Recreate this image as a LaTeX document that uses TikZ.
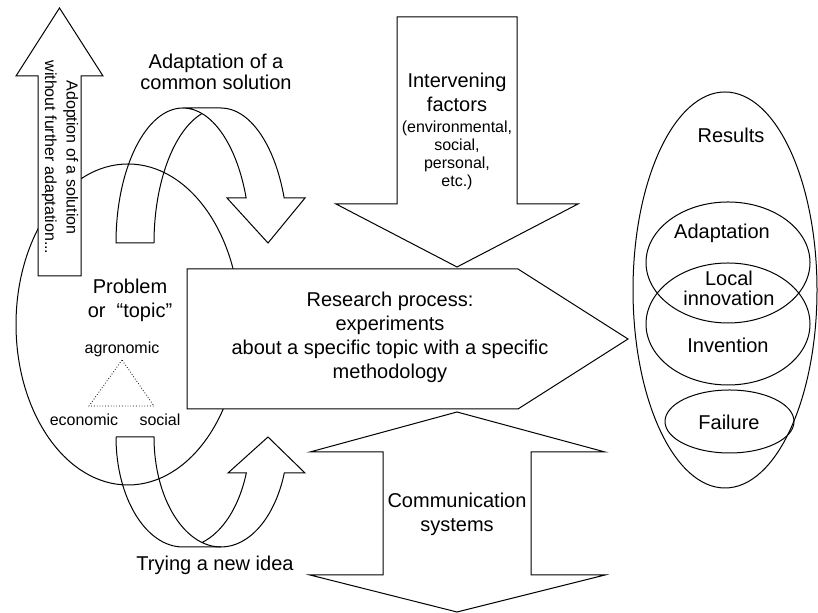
\documentclass[tikz,border=0pt]{standalone}
\usepackage{fontspec}
\setmainfont{Liberation Sans}
\usetikzlibrary{positioning}

\begin{document}
\begin{tikzpicture}[
        x=0.5pt, y=0.5pt,
        blockarrow/.style={draw=black, fill=white, line width=0.5pt, line join=miter},
        ribbon/.style={draw=black, line width=0.5pt, line join=miter},
        oval/.style={draw=black, line width=0.5pt},
        lbl/.style={align=center, inner sep=0pt, font=\fontsize{10}{12}\selectfont},
        smalllbl/.style={align=center, inner sep=0pt, font=\fontsize{8}{9}\selectfont}
    ]
    \useasboundingbox (0,0) rectangle (818,613);

    % Problem or topic
    \draw[oval] (128,288.5) ellipse [x radius=112, y radius=160.5];
    \draw[densely dotted, line width=0.4pt] (122,253) -- (89,207) -- (154,207) -- cycle;

    % Adoption without adaptation
    \draw[blockarrow] (38,337) -- (38,537) -- (16,537) -- (59.5,605) -- (103,537) -- (81,537) -- (81,337) -- cycle;

    % Research process
    \draw[blockarrow] (187,344) -- (518,344) -- (628,274) -- (518,204) -- (187,204) -- cycle;

    % Intervening factors
    \draw[blockarrow] (397,596) -- (517,596) -- (517,409) -- (578,409) -- (457,346) -- (336,409) -- (397,409) -- cycle;

    % Communication systems
    \draw[blockarrow] (457,201) -- (605,161) -- (531,161) -- (531,38) -- (605,38) -- (457,1)
        -- (310,38) -- (383,38) -- (383,161) -- (310,161) -- cycle;

    % Adaptation of a common solution
    \draw[ribbon] (154,370) -- (116,370) arc[start angle=180, end angle=19.47, x radius=67, y radius=135]
        -- (227,415) -- (268,370) -- (305,415) -- (284.17,415)
        arc[start angle=19.47, end angle=90, x radius=67, y radius=135] -- (183,505);
    \draw[ribbon] (154,370) arc[start angle=180, end angle=106.5, x radius=67, y radius=135];

    % Trying a new idea
    \draw[ribbon] (116,176) -- (154,176) arc[start angle=180, end angle=340.9, x radius=67, y radius=110]
        -- (305,140) -- (268,176) -- (228,140) -- (246.3,140)
        arc[start angle=340.9, end angle=286.5, x radius=67, y radius=110];
    \draw[ribbon] (116,176) arc[start angle=180, end angle=270, x radius=67, y radius=110] -- (221,66);

    % Results
    \draw[oval] (725,323) ellipse [x radius=92, y radius=198];
    \draw[oval] (728,350.5) ellipse [x radius=82, y radius=60.5];
    \draw[oval] (728,289) ellipse [x radius=82, y radius=61];
    \draw[oval] (729.5,191.5) ellipse [x radius=64.5, y radius=31.5];

    % Labels
    \node[smalllbl, rotate=-90, font=\fontsize{8}{10.8}\selectfont] (adopt-lbl) at (60,455.5) {Adoption of a solution\\without further adaptation...};
    \node[lbl, font=\fontsize{10}{10.5}\selectfont] (adapt-lbl) at (216,541) {Adaptation of a\\common solution};
    \node[lbl] (problem-lbl) at (130,313) {Problem\\or \ “topic”};
    \node[smalllbl] (agro-lbl) at (122,264) {agronomic};
    \node[smalllbl] (eco-lbl) at (84,193) {economic};
    \node[smalllbl] (social-lbl) at (160,193) {social};
    \node[lbl] (research-lbl) at (390,276) {Research process:\\experiments\\about a specific topic with a specific\\methodology};
    \node[lbl] (factors-lbl) at (457,521) {Intervening\\factors};
    \node[smalllbl] (factors-note) at (457,458) {(environmental,\\social,\\personal,\\etc.)};
    \node[lbl] (comm-lbl) at (457,98.5) {Communication\\systems};
    \node[lbl] (try-lbl) at (215,48) {Trying a new idea};

    \node[lbl] (results-lbl) at (731,478) {Results};
    \node[lbl] (adaptation-lbl) at (722,380) {Adaptation};
    \node[lbl, font=\fontsize{10}{10}\selectfont] (local-lbl) at (729,325) {Local\\innovation};
    \node[lbl] (invention-lbl) at (728,268) {Invention};
    \node[lbl] (failure-lbl) at (729,191) {Failure};

\end{tikzpicture}
\end{document}
